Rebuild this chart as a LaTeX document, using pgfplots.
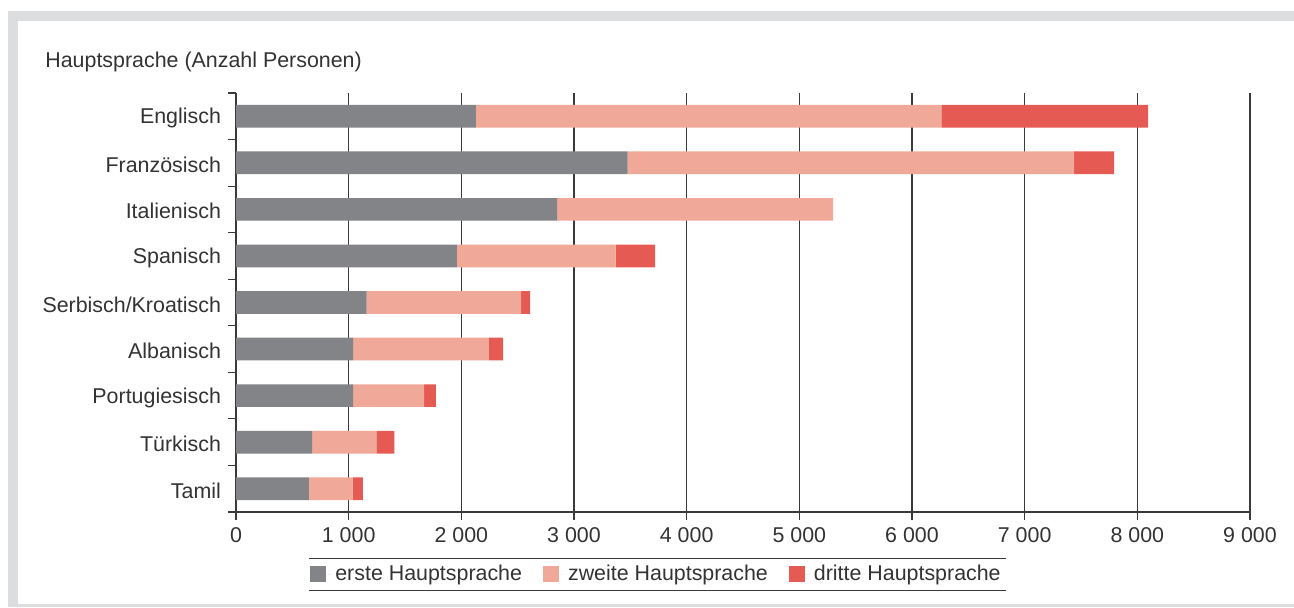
\documentclass[border=0pt]{standalone}
\usepackage{fontspec}
\setmainfont{Liberation Sans}
\usepackage{pgfplots}
\pgfplotsset{compat=1.18}
\definecolor{cgray}{HTML}{838487}
\definecolor{csalmon}{HTML}{F0A998}
\definecolor{cred}{HTML}{E55A53}
\definecolor{cframe}{HTML}{DCDDDE}
\definecolor{ctext}{HTML}{333333}
\definecolor{cgrid}{HTML}{3A3A3A}
\begin{document}
\begin{tikzpicture}
\useasboundingbox (0,0) rectangle (647pt,303.5pt);
\fill[white] (0,0) rectangle (647pt,303.5pt);
% frame
\fill[cframe] (4pt,293pt) rectangle (647pt,298pt);
\fill[cframe] (4pt,0pt) rectangle (9pt,298pt);
\fill[cframe] (4pt,0pt) rectangle (647pt,1.5pt);
\node[anchor=west, inner sep=0pt, text=ctext, font=\fontsize{10.7}{12}\selectfont] at (22.5pt,272.5pt) {Hauptsprache (Anzahl Personen)};
\begin{axis}[
  at={(118pt,47.5pt)}, anchor=south west,
  width=507pt, height=209.5pt, scale only axis,
  xbar stacked, bar width=11.35pt,
  xmin=0, xmax=9000, ymin=-0.5, ymax=8.5,
  axis x line*=bottom, axis y line*=left,
  axis line style={draw=cgrid, line width=0.6pt, -},
  xtick={0,1000,...,9000},
  xmajorgrids=true,
  grid style={draw=cgrid, line width=0.6pt},
  ytick={-0.5,0.5,...,8.5},
  yticklabels={Tamil,Türkisch,Portugiesisch,Albanisch,Serbisch/Kroatisch,Spanisch,Italienisch,Französisch,Englisch,{}},
  yticklabel style={yshift=10.7pt},
  tick align=outside,
  major tick length=4pt,
  tick style={draw=cgrid, line width=0.6pt},
  ticklabel style={text=ctext, font=\fontsize{10.7}{12}\selectfont},
  /pgf/number format/.cd, 1000 sep={\ }, assume math mode=true,
  /pgfplots/.cd,
  legend columns=3,
  legend style={at={(0.4157,-0.148)}, anchor=center, draw=none, fill=none,
    font=\fontsize{10.7}{12}\selectfont, text=ctext,
    /tikz/every even column/.append style={column sep=8.5pt}},
  legend image code/.code={\fill[#1] (0pt,-4pt) rectangle (8pt,4pt); \path (8pt,0pt) -- (10.5pt,0pt);},
]
\addplot[fill=cgray, draw=none] coordinates {(647,0) (675,1) (1040,2) (1040,3) (1160,4) (1960,5) (2850,6) (3475,7) (2130,8)};
\addplot[fill=csalmon, draw=none] coordinates {(389,0) (570,1) (630,2) (1205,3) (1370,4) (1410,5) (2450,6) (3965,7) (4130,8)};
\addplot[fill=cred, draw=none] coordinates {(89,0) (160,1) (105,2) (125,3) (80,4) (350,5) (0,6) (355,7) (1836,8)};
\legend{erste Hauptsprache, zweite Hauptsprache, dritte Hauptsprache}
\end{axis}
\draw[cgrid, line width=0.5pt] (154.5pt,24.5pt) -- (503pt,24.5pt);
\draw[cgrid, line width=0.5pt] (154.5pt,8.5pt) -- (503pt,8.5pt);
\end{tikzpicture}
\end{document}
